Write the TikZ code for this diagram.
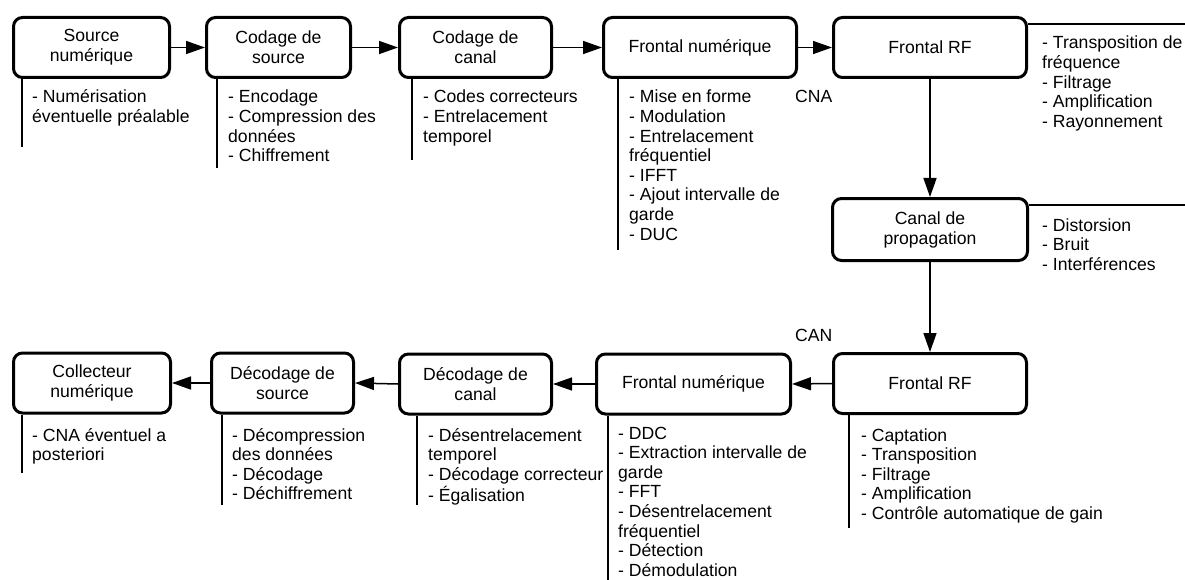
\documentclass[tikz,border=0pt]{standalone}
\usepackage{fontspec}
\setmainfont{Liberation Sans}
\usetikzlibrary{arrows.meta}
\newcommand\annlist[1]{\begin{tabular}[t]{@{}l@{}}#1\end{tabular}}
\begin{document}
\begin{tikzpicture}[x=1pt,y=-1pt,
  blk/.style={draw, line width=3pt, rounded corners=9pt, minimum height=60pt, align=center, inner sep=0pt, font=\fontsize{17.6}{20}\selectfont},
  flow/.style={line width=1.5pt, -{Triangle[length=19pt,width=13pt]}},
  annline/.style={line width=1.3pt},
  ann/.style={anchor=base west, inner sep=0pt, font=\fontsize{17.6}{19.6}\selectfont}]
\useasboundingbox (0,0) rectangle (1185,580);
% top row
\node[blk, minimum width=156pt] (B1) at (91.5,47.5) {Source\\numérique};
\node[blk, minimum width=144pt] (B2) at (278.5,47.5) {Codage de\\source};
\node[blk, minimum width=152pt] (B3) at (475.5,47.5) {Codage de\\canal};
\node[blk, minimum width=193pt] (B4) at (700,47.5) {Frontal numérique};
\node[blk, minimum width=193pt] (B5) at (930,47.5) {Frontal RF};
\node[blk, minimum width=195pt, minimum height=62pt] (B6) at (930,229.5) {Canal de\\propagation};
% bottom row
\node[blk, minimum width=193pt] (B7) at (930,383.5) {Frontal RF};
\node[blk, minimum width=194pt] (B8) at (693.5,384) {Frontal numérique};
\node[blk, minimum width=152pt] (B9) at (475.5,384) {Décodage de\\canal};
\node[blk, minimum width=142pt] (B10) at (282.5,383) {Décodage de\\source};
\node[blk, minimum width=157pt] (B11) at (92,383) {Collecteur\\numérique};
% flow arrows
\draw[flow] (B1.east) -- (B2.west);
\draw[flow] (B2.east) -- (B3.west);
\draw[flow] (B3.east) -- (B4.west);
\draw[flow] (B4.east) -- (B5.west);
\draw[flow] (B5.south) -- (B6.north);
\draw[flow] (B6.south) -- (B7.north);
\draw[flow] (B7.west) -- (B8.east);
\draw[flow] (B8.west) -- (B9.east);
\draw[flow] (B9.west) -- (B10.east);
\draw[flow] (B10.west) -- (B11.east);
% annotation rules
\coordinate (v1) at (22,147);
\coordinate (v2) at (217,168);
\coordinate (v3) at (412,160);
\coordinate (v4) at (618,250);
\coordinate (h5) at (1185,24);
\coordinate (h6) at (1185,205);
\coordinate (v7) at (849,528);
\coordinate (v8) at (608,580);
\coordinate (v9) at (417,505);
\coordinate (v10) at (222,505);
\coordinate (v11) at (22,473);
\draw[annline] (B1.south -| v1) -- (v1);
\draw[annline] (B2.south -| v2) -- (v2);
\draw[annline] (B3.south -| v3) -- (v3);
\draw[annline] (B4.south -| v4) -- (v4);
\draw[annline] (B5.east |- h5) -- (h5);
\draw[annline] (B6.east |- h6) -- (h6);
\draw[annline] (B7.south -| v7) -- (v7);
\draw[annline] (B8.south -| v8) -- (v8);
\draw[annline] (B9.south -| v9) -- (v9);
\draw[annline] (B10.south -| v10) -- (v10);
\draw[annline] (B11.south -| v11) -- (v11);
% annotation texts
\node[ann] (t1) at (32,103) {\annlist{- Numérisation\\éventuelle préalable}};
\node[ann] (t2) at (228,103) {\annlist{- Encodage\\- Compression des\\données\\- Chiffrement}};
\node[ann] (t3) at (423,103) {\annlist{- Codes correcteurs\\- Entrelacement\\temporel}};
\node[ann] (t4) at (629,103) {\annlist{- Mise en forme\\- Modulation\\- Entrelacement\\fréquentiel\\- IFFT\\- Ajout intervalle de\\garde\\- DUC}};
\node[ann] (cna) at (795,103) {CNA};
\node[ann] (t5) at (1042,49) {\annlist{- Transposition de\\fréquence\\- Filtrage\\- Amplification\\- Rayonnement}};
\node[ann] (t6) at (1042,231) {\annlist{- Distorsion\\- Bruit\\- Interférences}};
\node[ann] (can) at (795,341) {CAN};
\node[ann] (t7) at (861,441) {\annlist{- Captation\\- Transposition\\- Filtrage\\- Amplification\\- Contrôle automatique de gain}};
\node[ann] (t8) at (618,439) {\annlist{- DDC\\- Extraction intervalle de\\garde\\- FFT\\- Désentrelacement\\fréquentiel\\- Détection\\- Démodulation}};
\node[ann] (t9) at (428,441) {\annlist{- Désentrelacement\\temporel\\- Décodage correcteur\\- Égalisation}};
\node[ann] (t10) at (232,441) {\annlist{- Décompression\\des données\\- Décodage\\- Déchiffrement}};
\node[ann] (t11) at (32,441) {\annlist{- CNA éventuel a\\posteriori}};
\end{tikzpicture}
\end{document}
